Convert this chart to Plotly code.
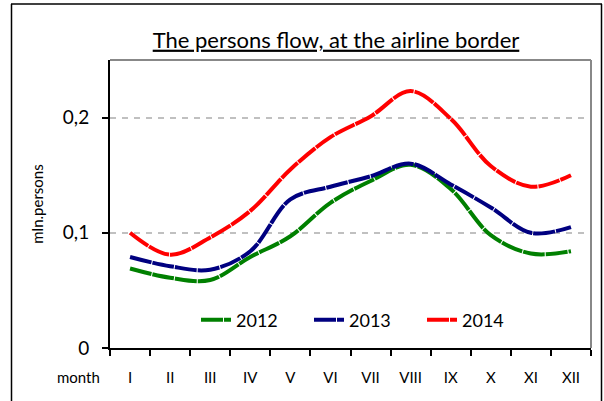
import plotly.graph_objects as go

# month labels and persons flow (mln. persons)
months = ["I", "II", "III", "IV", "V", "VI", "VII", "VIII", "IX", "X", "XI", "XII"]
flow_2012 = [0.069, 0.061, 0.059, 0.079, 0.097, 0.126, 0.145, 0.159, 0.138, 0.098, 0.082, 0.084]
flow_2013 = [0.079, 0.071, 0.068, 0.084, 0.129, 0.140, 0.149, 0.160, 0.142, 0.122, 0.100, 0.105]
flow_2014 = [0.100, 0.081, 0.096, 0.119, 0.155, 0.183, 0.201, 0.223, 0.199, 0.158, 0.140, 0.150]
years = ["2012", "2013", "2014"]
colors = ["#008000", "#000080", "#ff0000"]

W, H = 604, 401
L, R, T, B = 110, 591, 60, 348


def px(x):
    return (x - L) / (R - L)


def py(y):
    return (B - y) / (B - T)


fig = go.Figure()
for name, vals, col in zip(years, [flow_2012, flow_2013, flow_2014], colors):
    fig.add_trace(go.Scatter(
        x=months, y=vals, name=name, mode="lines",
        line=dict(color=col, width=4, shape="spline", smoothing=1.0, dash="22px,1px"),
    ))

shapes = [
    # plot area border top / right (gray)
    dict(type="line", xref="paper", yref="paper", x0=0, x1=1, y0=1, y1=1,
         line=dict(color="#888888", width=2)),
    dict(type="line", xref="paper", yref="paper", x0=1, x1=1, y0=0, y1=1,
         line=dict(color="#888888", width=2)),
    # outer frame
    dict(type="line", xref="paper", yref="paper", x0=px(11), x1=px(602), y0=py(4), y1=py(4),
         line=dict(color="black", width=1.5)),
    dict(type="line", xref="paper", yref="paper", x0=px(11.5), x1=px(11.5), y0=py(4), y1=py(402),
         line=dict(color="black", width=1.5)),
    dict(type="line", xref="paper", yref="paper", x0=px(601.5), x1=px(601.5), y0=py(4), y1=py(402),
         line=dict(color="black", width=1.5)),
]

fig.update_layout(
    width=W, height=H,
    margin=dict(l=L, r=W - R, t=T, b=H - B, autoexpand=False),
    paper_bgcolor="white", plot_bgcolor="white",
    separators=", ",
    font=dict(family="Lato, Carlito, sans-serif", color="black", size=16),
    title=dict(text="<u>The persons flow, at the airline border</u>",
               x=336 / W, xanchor="center", y=1 - 40 / H, yanchor="middle",
               font=dict(size=22)),
    showlegend=True,
    legend=dict(orientation="h", x=px(196), y=py(320), xanchor="left", yanchor="middle",
                font=dict(size=18), bgcolor="rgba(0,0,0,0)", entrywidth=68,
                tracegroupgap=0),
    shapes=shapes,
    annotations=[dict(text="month", xref="paper", yref="paper", x=px(78), y=py(377),
                      showarrow=False, xanchor="center", yanchor="middle",
                      font=dict(size=15))],
)

fig.update_xaxes(
    type="category", range=[-0.5, len(months) - 0.5],
    tickson="boundaries", ticks="outside", ticklen=6, tickwidth=2,
    tickcolor="black", showline=True, linecolor="black", linewidth=2,
    showgrid=False, tickfont=dict(size=15), ticklabelstandoff=15,
)
fig.update_yaxes(
    range=[0, 0.25], tickvals=[0, 0.1, 0.2], ticks="outside", ticklen=6, tickwidth=2,
    tickcolor="black", showline=True, linecolor="black", linewidth=2,
    showgrid=True, gridcolor="#c0c0c0", gridwidth=2, griddash="6px,6px",
    zeroline=False, tickfont=dict(size=19), ticklabelstandoff=9,
    title=dict(text="mln.persons", font=dict(size=15), standoff=16),
)

fig.write_html("out.html", config={"displayModeBar": False},
               post_script="document.body.style.margin='0';")
